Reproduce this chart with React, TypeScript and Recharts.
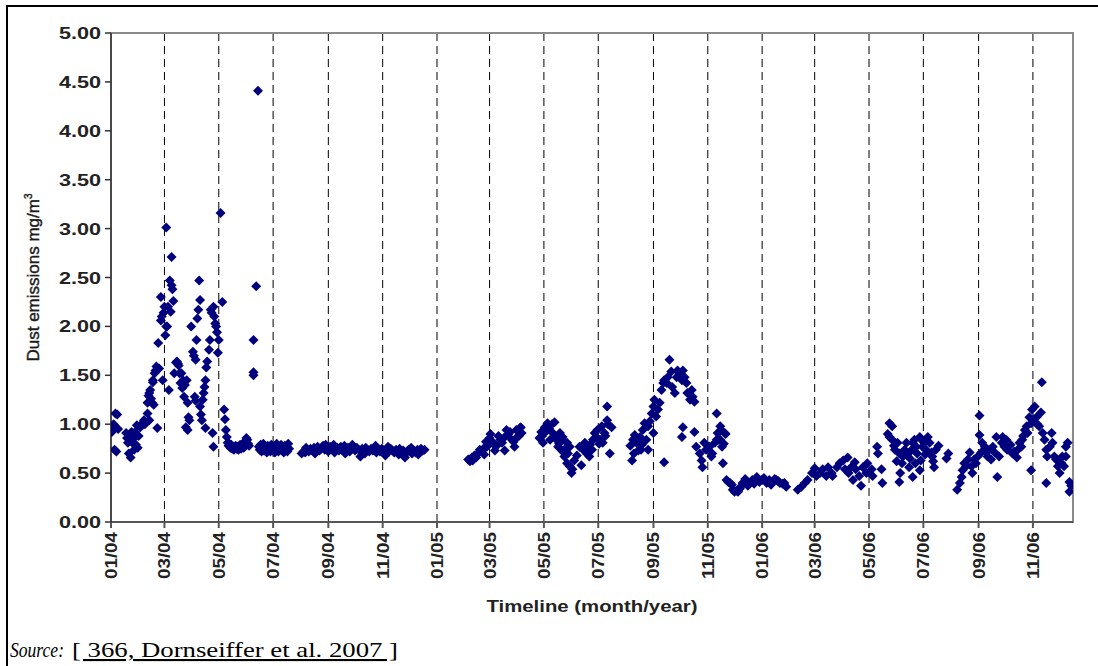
import { ScatterChart, Scatter, XAxis, YAxis, CartesianGrid, ReferenceArea } from "recharts";

type Pair = [number, number]; // [days since 1 Jan 2004, dust mg/m3]

const tickLabels = ["01/04", "03/04", "05/04", "07/04", "09/04", "11/04", "01/05", "03/05", "05/05", "07/05", "09/05", "11/05", "01/06", "03/06", "05/06", "07/06", "09/06", "11/06"];
const yTicks = [0, 0.5, 1, 1.5, 2, 2.5, 3, 3.5, 4, 4.5, 5];
const lastDay = 1080;

const jan04: Pair[] = [
  [1, 0.92], [2, 0.96], [3, 1.0], [4, 0.74], [5, 1.11], [6, 0.72], [7, 1.1], [8, 0.95],
  [17, 0.91], [18, 0.86], [19, 0.81], [20, 0.7], [21, 0.88], [22, 0.66], [23, 0.92], [24, 0.81], [25, 0.85], [26, 0.74],
  [27, 0.92], [28, 0.79], [29, 0.99], [30, 0.76], [31, 0.88], [33, 0.97], [34, 1.0], [37, 1.04], [38, 1.0],
  [41, 1.11], [41, 1.22], [42, 1.29], [43, 1.04], [43, 1.32], [44, 1.35], [45, 1.26], [46, 1.22], [47, 1.43], [47, 1.45],
  [48, 1.2], [49, 1.52], [50, 1.55], [51, 1.59], [52, 0.96], [53, 1.83], [54, 1.57],
];

const mar04: Pair[] = [
  [56, 2.06], [56, 2.3], [57, 2.1], [58, 1.45], [59, 2.14], [60, 2.2], [61, 1.91], [62, 2.0], [62, 3.01], [63, 2.0],
  [64, 2.2], [65, 1.35], [66, 2.47], [67, 2.15], [68, 2.42], [68, 2.71], [69, 2.38], [70, 2.26], [71, 1.52], [73, 1.63],
  [74, 1.64], [75, 1.62], [76, 1.6], [77, 1.52], [78, 1.42], [79, 1.52], [80, 1.37], [81, 1.45], [82, 1.28], [83, 1.4],
  [84, 0.97], [85, 1.45], [86, 1.22], [86, 0.94], [87, 1.07], [88, 1.04], [90, 2.0], [92, 1.74], [93, 1.7], [94, 1.28],
  [95, 1.66], [95, 1.24], [96, 1.86], [97, 2.08], [98, 2.17], [99, 2.47], [100, 2.27], [100, 1.18], [101, 1.1], [102, 1.04],
  [103, 1.25], [104, 1.32], [105, 1.38], [106, 1.45], [106, 0.96], [107, 1.58], [108, 1.64], [110, 1.76], [111, 1.86],
  [112, 2.17], [113, 2.14], [114, 0.91], [115, 2.2], [115, 0.77], [116, 2.1], [117, 2.03], [118, 2.0], [119, 1.94],
  [120, 1.73], [121, 1.86], [123, 3.16], [125, 2.25], [127, 1.15], [128, 1.05],
];

const may04: Pair[] = [
  [129, 0.94], [130, 0.87], [131, 0.81], [132, 0.78], [133, 0.8], [134, 0.76], [135, 0.79], [136, 0.75], [137, 0.77],
  [138, 0.74], [139, 0.76], [140, 0.78], [141, 0.75], [142, 0.77], [143, 0.74], [144, 0.76], [145, 0.79], [146, 0.75],
  [147, 0.77], [148, 0.8], [149, 0.76], [150, 0.82], [151, 0.78], [152, 0.86], [153, 0.84], [154, 0.8], [155, 0.78],
  [160, 1.53], [160, 1.5], [160, 1.86], [163, 2.41], [165, 4.41],
  [166, 0.77], [167, 0.74], [168, 0.79], [169, 0.72], [170, 0.76], [171, 0.8], [172, 0.73], [173, 0.77], [174, 0.75],
  [175, 0.71], [176, 0.78], [177, 0.74], [178, 0.76], [179, 0.72], [180, 0.79], [181, 0.75], [182, 0.73], [183, 0.77],
  [184, 0.71], [185, 0.76], [186, 0.8], [187, 0.74], [188, 0.72], [189, 0.77], [190, 0.75], [191, 0.79], [192, 0.73],
  [193, 0.76], [194, 0.71], [195, 0.78], [196, 0.74], [197, 0.77], [198, 0.72], [199, 0.8], [200, 0.75],
];

const aug04: Pair[] = [
  [214, 0.7], [216, 0.72], [218, 0.71], [219, 0.76], [220, 0.74], [222, 0.72], [224, 0.75], [226, 0.73], [228, 0.76],
  [229, 0.7], [230, 0.74], [232, 0.77], [234, 0.73], [236, 0.75], [238, 0.78], [240, 0.74], [241, 0.79], [242, 0.76],
  [244, 0.72], [246, 0.77], [248, 0.75], [250, 0.79], [251, 0.71], [252, 0.74], [254, 0.76], [256, 0.73], [258, 0.77],
  [260, 0.75], [262, 0.78], [263, 0.7], [264, 0.74], [266, 0.76], [268, 0.72], [270, 0.75], [271, 0.79], [272, 0.77],
  [274, 0.73], [276, 0.76], [278, 0.74], [280, 0.67], [282, 0.75], [284, 0.73], [285, 0.7], [286, 0.76], [288, 0.74],
  [290, 0.72], [292, 0.75], [294, 0.73], [296, 0.76], [297, 0.78], [298, 0.71], [300, 0.74], [302, 0.72], [304, 0.75],
  [306, 0.73], [308, 0.68], [310, 0.74], [311, 0.77], [312, 0.72], [314, 0.75], [316, 0.73], [318, 0.71], [320, 0.74],
  [322, 0.72], [323, 0.69], [324, 0.75], [326, 0.7], [328, 0.73], [330, 0.66], [332, 0.71], [334, 0.74], [336, 0.72],
  [337, 0.76], [338, 0.7], [340, 0.73], [342, 0.71], [344, 0.74], [345, 0.69], [346, 0.72], [348, 0.75], [350, 0.73],
  [352, 0.74],
];

const feb05: Pair[] = [
  [401, 0.64], [403, 0.62], [405, 0.66], [406, 0.63], [408, 0.68], [410, 0.66], [412, 0.7], [414, 0.74], [416, 0.72],
  [418, 0.75], [419, 0.69], [421, 0.82], [422, 0.77], [424, 0.8], [425, 0.86], [426, 0.9], [427, 0.83], [429, 0.8],
  [431, 0.73], [433, 0.78], [435, 0.88], [437, 0.84], [439, 0.81], [441, 0.86], [442, 0.73], [444, 0.94], [446, 0.9],
  [448, 0.92], [450, 0.84], [452, 0.82], [453, 0.77], [455, 0.94], [456, 0.87], [458, 0.88], [459, 0.96], [460, 0.97],
  [461, 0.91],
];

const may05: Pair[] = [
  [481, 0.86], [483, 0.92], [484, 0.88], [485, 0.81], [487, 0.97], [489, 0.93], [490, 1.01], [492, 0.95], [493, 0.84],
  [495, 1.0], [496, 0.91], [498, 1.02], [499, 0.85], [500, 0.87], [502, 0.77], [503, 0.8], [504, 0.91], [506, 0.84],
  [507, 0.87], [507, 0.72], [509, 0.67], [510, 0.75], [512, 0.81], [512, 0.6], [513, 0.7], [515, 0.57], [515, 0.77],
  [517, 0.5], [518, 0.54], [520, 0.63], [523, 0.68], [526, 0.77], [528, 0.58], [530, 0.74], [532, 0.81], [534, 0.7],
  [535, 0.77], [537, 0.67], [538, 0.79], [540, 0.74], [541, 0.84], [543, 0.91], [545, 0.87], [546, 0.94], [548, 0.8],
  [549, 0.84], [551, 0.98], [552, 0.81], [554, 0.91], [555, 0.88], [557, 1.04], [557, 1.18], [558, 1.0], [560, 0.7],
  [562, 0.97],
];

const aug05: Pair[] = [
  [583, 0.78], [585, 0.63], [586, 0.84], [587, 0.7], [588, 0.89], [590, 0.81], [591, 0.86], [592, 0.73], [594, 0.87],
  [595, 0.74], [596, 0.79], [597, 0.94], [599, 1.01], [601, 0.84], [603, 0.98], [603, 0.74], [605, 1.03], [607, 1.11],
  [609, 1.18], [609, 0.91], [610, 1.25], [612, 1.08], [614, 1.15], [616, 1.22], [618, 1.35], [620, 1.42], [621, 1.45],
  [621, 0.61], [624, 1.42], [625, 1.48], [627, 1.66], [629, 1.54], [630, 1.38], [633, 1.32], [635, 1.48], [636, 1.55],
  [638, 1.52], [641, 1.45], [641, 0.87], [642, 1.55], [642, 0.97], [644, 1.48], [646, 1.42], [647, 1.32], [650, 1.25],
  [652, 1.35], [653, 1.28], [655, 1.23], [655, 0.92],
];

const nov05: Pair[] = [
  [657, 0.77], [661, 0.7], [663, 0.63], [664, 0.56], [666, 0.81], [668, 0.74], [672, 0.77], [674, 0.67], [675, 0.7],
  [678, 0.81], [680, 1.11], [680, 0.84], [681, 0.91], [682, 0.84], [684, 0.98], [684, 0.84], [685, 0.94], [686, 0.77],
  [687, 0.6], [688, 0.8], [689, 0.91], [690, 0.9],
];

const dec05: Pair[] = [
  [691, 0.43], [693, 0.41], [695, 0.4], [697, 0.38], [698, 0.33], [700, 0.31], [702, 0.32], [704, 0.31], [706, 0.34],
  [708, 0.37], [709, 0.4], [712, 0.44], [714, 0.41], [715, 0.37], [717, 0.4], [720, 0.43], [722, 0.39], [725, 0.46],
  [728, 0.41], [731, 0.43], [733, 0.45], [736, 0.4], [739, 0.43], [741, 0.38], [743, 0.41], [745, 0.44], [747, 0.43],
  [749, 0.42], [751, 0.4], [754, 0.39], [756, 0.4], [758, 0.36],
];

const feb06: Pair[] = [
  [771, 0.33], [775, 0.36], [779, 0.4], [782, 0.43], [787, 0.5], [790, 0.55], [792, 0.47], [796, 0.5], [799, 0.54],
  [803, 0.47], [805, 0.56], [809, 0.5], [810, 0.47], [815, 0.56], [818, 0.6], [822, 0.63], [824, 0.54], [827, 0.66],
  [828, 0.5], [831, 0.56], [833, 0.43], [835, 0.61], [836, 0.54], [840, 0.47], [842, 0.37], [844, 0.56], [848, 0.5],
  [849, 0.6], [854, 0.54], [855, 0.47], [860, 0.77], [861, 0.7], [865, 0.54], [866, 0.4],
];

const jun06: Pair[] = [
  [872, 0.9], [874, 1.01], [874, 0.87], [877, 0.98], [877, 0.84], [879, 0.78], [880, 0.74], [882, 0.62], [883, 0.81],
  [885, 0.7], [885, 0.41], [886, 0.5], [888, 0.6], [889, 0.67], [891, 0.74], [893, 0.81], [895, 0.7], [896, 0.56],
  [897, 0.65], [899, 0.74], [900, 0.81], [900, 0.46], [902, 0.84], [903, 0.6], [904, 0.77], [905, 0.7], [908, 0.87],
  [908, 0.53], [909, 0.63], [910, 0.84], [911, 0.77], [913, 0.81], [914, 0.69], [915, 0.74], [917, 0.87], [919, 0.81],
  [921, 0.71], [922, 0.67], [923, 0.62], [924, 0.56], [926, 0.74], [929, 0.78], [938, 0.65], [940, 0.7],
];

const aug06: Pair[] = [
  [950, 0.33], [953, 0.4], [955, 0.46], [956, 0.53], [958, 0.6], [960, 0.57], [962, 0.64], [964, 0.71], [966, 0.57],
  [967, 0.5], [969, 0.64], [971, 0.6], [973, 0.67], [975, 1.09], [975, 0.89], [977, 0.71], [978, 0.81], [981, 0.77],
  [983, 0.71], [984, 0.67], [986, 0.74], [988, 0.64], [990, 0.77], [992, 0.71], [994, 0.87], [995, 0.46], [997, 0.67],
  [1000, 0.81], [1001, 0.87], [1003, 0.77], [1005, 0.84], [1006, 0.74], [1010, 0.79], [1012, 0.7], [1014, 0.72],
  [1017, 0.66], [1018, 0.74], [1020, 0.81], [1022, 0.77], [1023, 0.84], [1024, 0.88], [1026, 0.94], [1028, 0.98],
  [1029, 0.91], [1031, 1.07], [1033, 1.01], [1033, 0.53], [1034, 1.15], [1036, 1.05], [1037, 1.18], [1039, 1.07],
  [1040, 1.0], [1042, 0.98], [1044, 1.12], [1045, 1.43], [1046, 0.91], [1048, 0.84], [1050, 0.74], [1050, 0.4],
  [1051, 0.67], [1054, 0.77], [1056, 0.91], [1057, 0.81], [1059, 0.67], [1061, 0.64], [1063, 0.57], [1065, 0.5],
  [1067, 0.6], [1068, 0.67], [1070, 0.57], [1072, 0.77], [1072, 0.67], [1074, 0.81], [1076, 0.41], [1076, 0.31],
  [1078, 0.37],
];

const periods = [jan04, mar04, may04, aug04, feb05, may05, aug05, nov05, dec05, feb06, jun06, aug06];

// tick label "MM/YY" -> days since 1 Jan 2004
const dayOf = (label: string) => {
  const [m, y] = label.split("/").map(Number);
  return Math.round((Date.UTC(2000 + y, m - 1, 1) - Date.UTC(2004, 0, 1)) / 86400000);
};
const xTicks = tickLabels.map(dayOf);

const font = "'Liberation Sans', Arial, sans-serif";
const serif = "'Liberation Serif', 'Times New Roman', serif";
const navy = "#00007f";

const Diamond = (props: any) => {
  const { cx, cy } = props;
  if (cx == null || cy == null) return null;
  const r = 5;
  return <path d={`M${cx},${cy - r}L${cx + r},${cy}L${cx},${cy + r}L${cx - r},${cy}Z`} fill={navy} />;
};

const YTick = (props: any) => {
  const { x, y, payload } = props;
  return (
    <text x={x - 2} y={y + 6} textAnchor="end" fontFamily={font} fontWeight="bold" fontSize={16} fill="#222"
      textLength={42} lengthAdjust="spacingAndGlyphs">
      {Number(payload.value).toFixed(2)}
    </text>
  );
};

const XTick = (props: any) => {
  const { x, y, payload } = props;
  const label = tickLabels[xTicks.indexOf(payload.value)] ?? "";
  return (
    <text x={x - 2} y={y} dy={6} transform={`rotate(-90 ${x} ${y})`} textAnchor="end" fontFamily={font}
      fontWeight="bold" fontSize={16} fill="#222" textLength={47} lengthAdjust="spacingAndGlyphs">
      {label}
    </text>
  );
};

const XTitle = (props: any) => {
  const vb = props.viewBox;
  return (
    <text x={vb.x + vb.width / 2} y={vb.y + 90} textAnchor="middle" fontFamily={font} fontWeight="bold"
      fontSize={16} fill="#222" textLength={211} lengthAdjust="spacingAndGlyphs">
      Timeline (month/year)
    </text>
  );
};

const YTitle = (props: any) => {
  const vb = props.viewBox;
  const cx = 39;
  const cy = vb.y + vb.height / 2;
  return (
    <text x={cx} y={cy} transform={`rotate(-90 ${cx} ${cy})`} textAnchor="middle" fontFamily={font}
      fontSize={17} fill="#1a1a1a" stroke="#1a1a1a" strokeWidth={0.4}>
      <tspan>Dust emissions mg/m</tspan>
      <tspan dy={-7} fontSize={10}>3</tspan>
    </text>
  );
};

export default function App() {
  return (
    <div style={{ position: "absolute", left: 0, top: 0, width: 1098, height: 666, background: "#fff", overflow: "hidden" }}>
      <div style={{ position: "absolute", left: 6, top: 5, width: 1200, height: 800, border: "2px solid #000" }} />
      <div style={{ position: "absolute", left: 0, top: 0 }}>
        <ScatterChart width={1098} height={666} margin={{ top: 33, right: 25, bottom: 0, left: 0 }}>
          <ReferenceArea x1={0} x2={lastDay} y1={0} y2={5} fill="none" stroke="#8a8a8a" strokeWidth={2} />
          <CartesianGrid horizontal={false} stroke="#000" strokeDasharray="8 5" />
          <XAxis type="number" dataKey="x" domain={[0, lastDay]} ticks={xTicks} interval={0} height={144}
            allowDataOverflow stroke="#555" strokeWidth={2} tickSize={6} tick={<XTick />} label={XTitle} />
          <YAxis type="number" dataKey="y" domain={[0, 5]} ticks={yTicks} interval={0} width={111}
            stroke="#333" strokeWidth={1.5} tickSize={6} tick={<YTick />} label={YTitle} />
          {periods.map((p, i) => (
            <Scatter key={i} data={p.map(([x, y]) => ({ x, y }))} shape={Diamond} isAnimationActive={false} />
          ))}
        </ScatterChart>
      </div>
      <svg width={1098} height={666} style={{ position: "absolute", left: 0, top: 0, pointerEvents: "none" }}>
        <text x={10} y={657} fontFamily={serif} fontSize={21} fontStyle="italic"
          textLength={54} lengthAdjust="spacingAndGlyphs">Source:</text>
        <text x={72} y={657} fontFamily={serif} fontSize={21} style={{ textDecoration: "underline" }}
          textLength={326} lengthAdjust="spacingAndGlyphs">
          [ 366, Dornseiffer et al. 2007 ]
        </text>
      </svg>
    </div>
  );
}
